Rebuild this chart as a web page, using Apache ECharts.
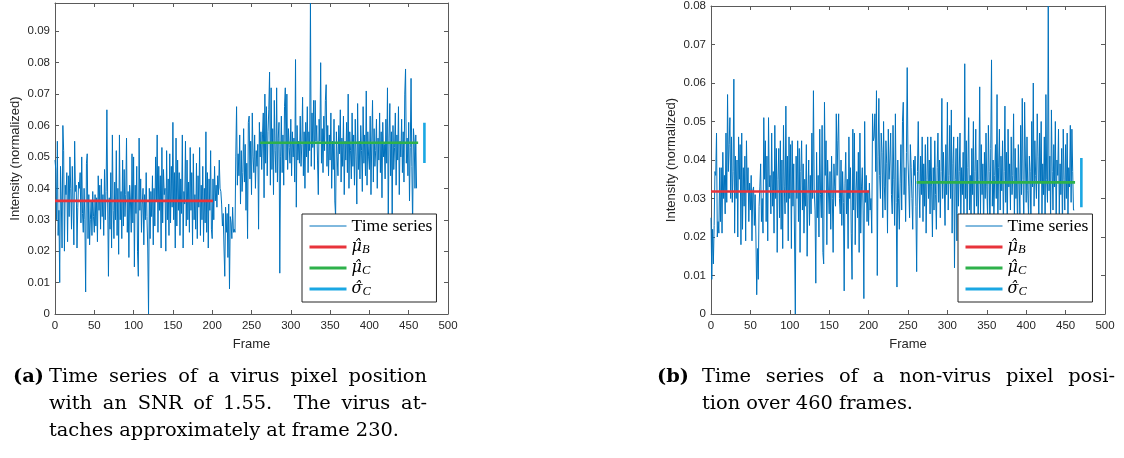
<!DOCTYPE html>
<html>
<head>
<meta charset="utf-8">
<title>Time series</title>
<script src="https://cdn.jsdelivr.net/npm/echarts@6.0.0/dist/echarts.min.js"></script>
<style>
    body { margin: 0; background: #fff; }
    #main { position: absolute; left: 0; top: 0; width: 1124px; height: 458px; }
    .caption { position: absolute; font-family: 'DejaVu Serif', serif; font-size: 19.4px; line-height: 27px; color: #000; }
    .caption .tag { position: absolute; top: 0; font-weight: bold; }
    .caption .row { white-space: nowrap; }
    .caption .full { text-align: justify; text-align-last: justify; white-space: normal; }
</style>
</head>
<body>
<div id="main"></div>

<div class="caption" style="left:13px; top:362px;">
    <span class="tag" style="left:0;">(a)</span>
    <div style="margin-left:36px; width:378px;">
        <div class="row full">Time series of a virus pixel position</div>
        <div class="row full">with an SNR of 1.55.&nbsp; The virus at-</div>
        <div class="row">taches approximately at frame 230.</div>
    </div>
</div>

<div class="caption" style="left:657px; top:362px;">
    <span class="tag" style="left:0;">(b)</span>
    <div style="margin-left:45px; width:413px;">
        <div class="row full">Time series of a non-virus pixel posi-</div>
        <div class="row">tion over 460 frames.</div>
    </div>
</div>

<script>
// intensity per frame
const virusIntensity = [
    0.049, 0.046, 0.030, 0.055, 0.025, 0.033, 0.010, 0.047, 0.036, 0.021,
    0.060, 0.052, 0.020, 0.041, 0.038, 0.045, 0.023, 0.044, 0.031, 0.050,
    0.040, 0.027, 0.047, 0.035, 0.022, 0.055, 0.039, 0.041, 0.021, 0.034,
    0.042, 0.040, 0.045, 0.029, 0.050, 0.032, 0.026, 0.040, 0.030, 0.007,
    0.048, 0.051, 0.024, 0.038, 0.022, 0.030, 0.036, 0.025, 0.039, 0.031,
    0.026, 0.038, 0.028, 0.037, 0.023, 0.044, 0.033, 0.041, 0.027, 0.043,
    0.031, 0.038, 0.025, 0.046, 0.030, 0.039, 0.065, 0.036, 0.012, 0.037,
    0.027, 0.045, 0.021, 0.057, 0.033, 0.024, 0.042, 0.030, 0.052, 0.025,
    0.040, 0.019, 0.057, 0.030, 0.039, 0.024, 0.049, 0.028, 0.046, 0.031,
    0.038, 0.056, 0.026, 0.039, 0.018, 0.041, 0.036, 0.026, 0.051, 0.029,
    0.050, 0.015, 0.041, 0.032, 0.047, 0.020, 0.012, 0.056, 0.033, 0.043,
    0.026, 0.035, 0.040, 0.022, 0.038, 0.030, 0.045, 0.031, 0.021, 0.000,
    0.040, 0.024, 0.039, 0.031, 0.044, 0.022, 0.040, 0.028, 0.050, 0.036,
    0.057, 0.026, 0.047, 0.033, 0.044, 0.021, 0.053, 0.029, 0.046, 0.038,
    0.040, 0.020, 0.052, 0.030, 0.043, 0.025, 0.051, 0.029, 0.047, 0.034,
    0.061, 0.030, 0.045, 0.021, 0.056, 0.028, 0.049, 0.033, 0.045, 0.025,
    0.043, 0.032, 0.057, 0.021, 0.039, 0.035, 0.055, 0.028, 0.049, 0.030,
    0.042, 0.026, 0.053, 0.033, 0.045, 0.022, 0.051, 0.030, 0.038, 0.027,
    0.048, 0.024, 0.044, 0.034, 0.053, 0.025, 0.041, 0.030, 0.047, 0.023,
    0.040, 0.029, 0.058, 0.026, 0.045, 0.021, 0.043, 0.033, 0.052, 0.027,
    0.024, 0.043, 0.030, 0.047, 0.036, 0.041, 0.034, 0.044, 0.038, 0.049,
    0.040, 0.039, 0.035, 0.028, 0.032, 0.021, 0.012, 0.034, 0.026, 0.032,
    0.018, 0.035, 0.008, 0.031, 0.029, 0.024, 0.034, 0.026, 0.027, 0.026,
    0.050, 0.066, 0.041, 0.051, 0.044, 0.057, 0.035, 0.052, 0.039, 0.045,
    0.059, 0.042, 0.054, 0.033, 0.048, 0.024, 0.061, 0.063, 0.043, 0.055,
    0.038, 0.064, 0.050, 0.045, 0.057, 0.040, 0.052, 0.047, 0.054, 0.027,
    0.061, 0.050, 0.058, 0.046, 0.057, 0.064, 0.037, 0.070, 0.048, 0.066,
    0.044, 0.058, 0.065, 0.077, 0.041, 0.072, 0.046, 0.059, 0.038, 0.068,
    0.052, 0.045, 0.072, 0.042, 0.056, 0.061, 0.013, 0.050, 0.063, 0.045,
    0.057, 0.041, 0.066, 0.072, 0.049, 0.070, 0.046, 0.059, 0.053, 0.048,
    0.062, 0.044, 0.058, 0.050, 0.056, 0.042, 0.081, 0.034, 0.060, 0.049,
    0.055, 0.048, 0.063, 0.047, 0.054, 0.069, 0.044, 0.058, 0.040, 0.061,
    0.050, 0.066, 0.045, 0.058, 0.052, 0.099, 0.047, 0.064, 0.053, 0.068,
    0.046, 0.068, 0.055, 0.060, 0.049, 0.038, 0.062, 0.055, 0.080, 0.048,
    0.059, 0.045, 0.063, 0.052, 0.068, 0.073, 0.047, 0.060, 0.044, 0.057,
    0.049, 0.064, 0.040, 0.055, 0.046, 0.062, 0.036, 0.031, 0.058, 0.050,
    0.044, 0.060, 0.051, 0.065, 0.042, 0.056, 0.047, 0.063, 0.038, 0.055,
    0.049, 0.061, 0.045, 0.070, 0.040, 0.058, 0.052, 0.043, 0.064, 0.047,
    0.057, 0.041, 0.062, 0.050, 0.035, 0.067, 0.046, 0.055, 0.043, 0.060,
    0.052, 0.039, 0.066, 0.048, 0.057, 0.044, 0.071, 0.041, 0.058, 0.050,
    0.046, 0.063, 0.038, 0.055, 0.068, 0.042, 0.059, 0.047, 0.052, 0.062,
    0.040, 0.056, 0.049, 0.064, 0.045, 0.058, 0.037, 0.061, 0.050, 0.054,
    0.043, 0.062, 0.048, 0.072, 0.029, 0.056, 0.067, 0.044, 0.058, 0.031,
    0.060, 0.046, 0.053, 0.064, 0.041, 0.057, 0.049, 0.066, 0.038, 0.055,
    0.050, 0.062, 0.045, 0.058, 0.042, 0.070, 0.078, 0.048, 0.056, 0.044,
    0.061, 0.036, 0.053, 0.075, 0.047, 0.028, 0.059, 0.055, 0.040, 0.057,
    0.040
];

const nonVirusIntensity = [
    0.025, 0.009, 0.022, 0.013, 0.023, 0.037, 0.036, 0.047, 0.020, 0.024,
    0.021, 0.038, 0.024, 0.038, 0.021, 0.042, 0.030, 0.036, 0.026, 0.047,
    0.029, 0.057, 0.037, 0.044, 0.051, 0.030, 0.046, 0.029, 0.037, 0.061,
    0.021, 0.041, 0.030, 0.040, 0.020, 0.046, 0.035, 0.044, 0.018, 0.047,
    0.022, 0.038, 0.028, 0.041, 0.019, 0.045, 0.032, 0.038, 0.024, 0.034,
    0.027, 0.036, 0.019, 0.032, 0.033, 0.023, 0.031, 0.020, 0.005, 0.017,
    0.009, 0.028, 0.033, 0.039, 0.024, 0.030, 0.021, 0.051, 0.035, 0.045,
    0.024, 0.041, 0.019, 0.051, 0.033, 0.036, 0.026, 0.047, 0.028, 0.037,
    0.021, 0.049, 0.030, 0.043, 0.016, 0.035, 0.043, 0.025, 0.045, 0.022,
    0.040, 0.017, 0.049, 0.033, 0.026, 0.054, 0.029, 0.041, 0.019, 0.046,
    0.030, 0.044, 0.017, 0.045, 0.028, 0.039, 0.020, 0.000, 0.041, 0.030,
    0.045, 0.024, 0.043, 0.016, 0.037, 0.045, 0.027, 0.039, 0.021, 0.035,
    0.028, 0.044, 0.015, 0.031, 0.040, 0.023, 0.036, 0.026, 0.047, 0.030,
    0.058, 0.032, 0.027, 0.008, 0.042, 0.025, 0.036, 0.020, 0.048, 0.031,
    0.025, 0.049, 0.016, 0.013, 0.055, 0.036, 0.045, 0.018, 0.040, 0.032,
    0.026, 0.037, 0.022, 0.041, 0.030, 0.016, 0.039, 0.033, 0.028, 0.052,
    0.036, 0.045, 0.052, 0.030, 0.026, 0.040, 0.023, 0.037, 0.029, 0.006,
    0.034, 0.042, 0.026, 0.035, 0.017, 0.046, 0.030, 0.038, 0.021, 0.009,
    0.048, 0.027, 0.047, 0.018, 0.032, 0.037, 0.025, 0.042, 0.016, 0.047,
    0.021, 0.033, 0.038, 0.027, 0.004, 0.050, 0.029, 0.036, 0.024, 0.032,
    0.023, 0.034, 0.027, 0.030, 0.021, 0.052, 0.045, 0.046, 0.052, 0.037,
    0.058, 0.010, 0.041, 0.056, 0.036, 0.030, 0.047, 0.042, 0.025, 0.050,
    0.033, 0.027, 0.045, 0.039, 0.021, 0.048, 0.035, 0.040, 0.047, 0.031,
    0.026, 0.049, 0.035, 0.023, 0.052, 0.029, 0.007, 0.040, 0.030, 0.022,
    0.034, 0.044, 0.027, 0.050, 0.055, 0.031, 0.038, 0.024, 0.042, 0.064,
    0.040, 0.033, 0.025, 0.044, 0.038, 0.030, 0.022, 0.040, 0.036, 0.041,
    0.028, 0.011, 0.037, 0.050, 0.033, 0.025, 0.041, 0.031, 0.046, 0.024,
    0.039, 0.028, 0.044, 0.021, 0.035, 0.046, 0.030, 0.040, 0.026, 0.046,
    0.033, 0.020, 0.038, 0.027, 0.045, 0.031, 0.022, 0.038, 0.047, 0.029,
    0.040, 0.025, 0.037, 0.056, 0.030, 0.042, 0.034, 0.023, 0.044, 0.031,
    0.055, 0.027, 0.036, 0.049, 0.030, 0.053, 0.021, 0.039, 0.046, 0.012,
    0.035, 0.043, 0.019, 0.046, 0.028, 0.037, 0.047, 0.024, 0.038, 0.031,
    0.042, 0.026, 0.065, 0.030, 0.045, 0.022, 0.038, 0.051, 0.027, 0.036,
    0.024, 0.043, 0.031, 0.050, 0.019, 0.037, 0.048, 0.028, 0.040, 0.023,
    0.035, 0.059, 0.026, 0.044, 0.031, 0.039, 0.021, 0.042, 0.030, 0.047,
    0.033, 0.025, 0.049, 0.037, 0.020, 0.043, 0.066, 0.028, 0.040, 0.024,
    0.036, 0.044, 0.030, 0.057, 0.022, 0.038, 0.048, 0.027, 0.041, 0.032,
    0.045, 0.023, 0.037, 0.054, 0.029, 0.042, 0.020, 0.048, 0.033, 0.039,
    0.027, 0.046, 0.031, 0.036, 0.052, 0.024, 0.043, 0.030, 0.038, 0.021,
    0.044, 0.034, 0.026, 0.049, 0.031, 0.056, 0.035, 0.023, 0.055, 0.040,
    0.029, 0.046, 0.032, 0.025, 0.041, 0.037, 0.022, 0.050, 0.033, 0.060,
    0.028, 0.045, 0.036, 0.030, 0.052, 0.041, 0.024, 0.047, 0.034, 0.050,
    0.026, 0.039, 0.031, 0.046, 0.022, 0.057, 0.035, 0.029, 0.080, 0.032,
    0.041, 0.024, 0.053, 0.037, 0.027, 0.044, 0.033, 0.050, 0.022, 0.040,
    0.036, 0.048, 0.026, 0.039, 0.031, 0.043, 0.021, 0.048, 0.035, 0.027,
    0.044, 0.030, 0.047, 0.025, 0.038, 0.033, 0.049, 0.029, 0.048, 0.037,
    0.027, 0.027
];

// estimated statistics, one entry per panel
const meanB = [0.0360, 0.0318];
const meanC = [0.0545, 0.0342];
const sigmaC = [[0.0481, 0.0609], [0.0277, 0.0405]];
const rangeB = [0, 201];
const rangeC = [261, 462];
const sigmaFrame = 470;
const yMax = [0.099, 0.08];

const blue = '#0072bd';
const red = '#e8333b';
const green = '#2eb14b';
const lightBlue = '#1aa7e3';
const axisColor = '#5a5a5a';
const sans = 'Liberation Sans';
const serif = 'Liberation Serif';

const grids = [
    { left: 55, top: 3, width: 393, height: 311 },
    { left: 711, top: 5, width: 394, height: 309 }
];
const legendLeft = [302, 958];

function makeAxes(p) {
    let base = {
        gridIndex: p,
        type: 'value',
        axisLine: { show: true, onZero: false, lineStyle: { color: axisColor, width: 1 } },
        axisTick: { show: true, inside: true, length: 4, lineStyle: { color: axisColor } },
        splitLine: { show: false }
    };
    let x = Object.assign({}, base, {
        min: 0, max: 500, interval: 50,
        position: 'bottom',
        name: 'Frame', nameLocation: 'middle', nameGap: 24,
        nameTextStyle: { fontFamily: sans, fontSize: 13, color: '#262626' },
        axisLabel: { fontFamily: sans, fontSize: 11.5, color: '#262626', margin: 6 }
    });
    let xTop = Object.assign({}, base, {
        min: 0, max: 500, interval: 50, position: 'top',
        axisLabel: { show: false }
    });
    let y = Object.assign({}, base, {
        min: 0, max: yMax[p], interval: 0.01,
        position: 'left',
        name: 'Intensity (normalized)', nameLocation: 'middle', nameGap: 33,
        nameTextStyle: { fontFamily: sans, fontSize: 13, color: '#262626' },
        axisLabel: { fontFamily: sans, fontSize: 11.5, color: '#262626', margin: 5, showMaxLabel: yMax[p] === 0.08 }
    });
    let yRight = Object.assign({}, base, {
        min: 0, max: yMax[p], interval: 0.01, position: 'right',
        axisLabel: { show: false }
    });
    return { x: [x, xTop], y: [y, yRight] };
}

function makeSeries(p, values) {
    let common = { type: 'line', symbol: 'none', xAxisIndex: 2 * p, yAxisIndex: 2 * p, animation: false, silent: true };
    return [
        Object.assign({}, common, {
            name: 'Time series',
            data: values.map((v, i) => [i, v]),
            lineStyle: { color: blue, width: 1 },
            itemStyle: { color: blue }
        }),
        Object.assign({}, common, {
            name: 'muB',
            data: [[rangeB[0], meanB[p]], [rangeB[1], meanB[p]]],
            lineStyle: { color: red, width: 2.6 },
            itemStyle: { color: red }
        }),
        Object.assign({}, common, {
            name: 'muC',
            data: [[rangeC[0], meanC[p]], [rangeC[1], meanC[p]]],
            lineStyle: { color: green, width: 2.6 },
            itemStyle: { color: green }
        }),
        Object.assign({}, common, {
            name: 'sigmaC',
            data: [[sigmaFrame, sigmaC[p][0]], [sigmaFrame, sigmaC[p][1]]],
            lineStyle: { color: lightBlue, width: 2.6 },
            itemStyle: { color: lightBlue }
        })
    ];
}

function makeLegend(p) {
    return {
        left: legendLeft[p],
        top: 214,
        orient: 'vertical',
        backgroundColor: '#fff',
        borderColor: '#262626',
        borderWidth: 1,
        padding: [3, 4, 4, 6],
        itemWidth: 37,
        itemHeight: 14,
        itemGap: 3,
        itemTextGap: 4,
        selectedMode: false,
        itemStyle: { opacity: 0 },
        data: [
            { name: 'Time series', lineStyle: { color: blue, width: 1 } },
            { name: 'muB', lineStyle: { color: red, width: 3 } },
            { name: 'muC', lineStyle: { color: green, width: 3 } },
            { name: 'sigmaC', lineStyle: { color: lightBlue, width: 3 } }
        ],
        textStyle: {
            fontFamily: serif, fontSize: 17.6, color: '#000', lineHeight: 18,
            rich: {
                m: { fontFamily: 'DejaVu Serif', fontSize: 16, fontStyle: 'italic', color: '#000', lineHeight: 18 },
                s: { fontFamily: serif, fontSize: 12.5, fontStyle: 'italic', color: '#000', lineHeight: 18, verticalAlign: 'bottom' }
            }
        },
        formatter: function (name) {
            if (name === 'muB') return '{m|\u03bc\u0302}{s|B}';
            if (name === 'muC') return '{m|\u03bc\u0302}{s|C}';
            if (name === 'sigmaC') return '{m|\u03c3\u0302}{s|C}';
            return name;
        }
    };
}

let xAxes = [];
let yAxes = [];
let series = [];
[virusIntensity, nonVirusIntensity].forEach((values, p) => {
    let axes = makeAxes(p);
    xAxes = xAxes.concat(axes.x);
    yAxes = yAxes.concat(axes.y);
    series = series.concat(makeSeries(p, values));
});

let option = {
    animation: false,
    backgroundColor: '#fff',
    grid: grids,
    xAxis: xAxes,
    yAxis: yAxes,
    legend: [makeLegend(0), makeLegend(1)],
    series: series
};

var myChart = echarts.init(document.getElementById('main'));
myChart.setOption(option);
</script>
</body>
</html>
